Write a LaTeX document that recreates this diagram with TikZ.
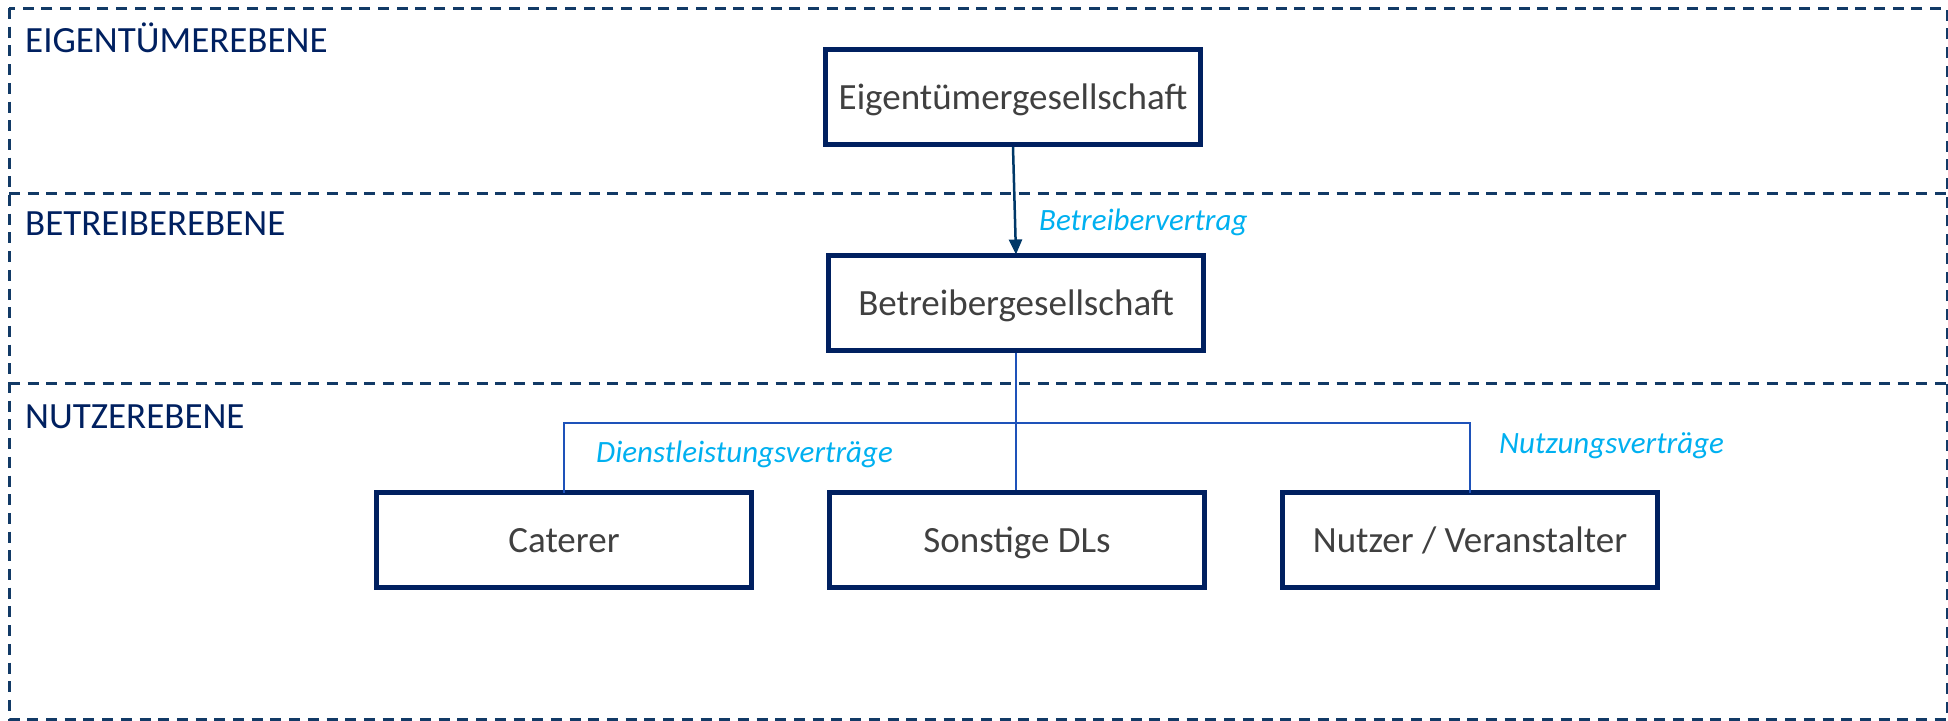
\documentclass[tikz,border=0pt]{standalone}
\usepackage{fontspec}
\setmainfont{Carlito}
\usetikzlibrary{arrows.meta}
\definecolor{navy}{RGB}{0,32,96}
\definecolor{dashblue}{RGB}{18,58,102}
\definecolor{txtgrey}{RGB}{64,64,64}
\definecolor{cyanlbl}{RGB}{0,176,240}
\definecolor{linkblue}{RGB}{30,82,185}
\definecolor{arrowblue}{RGB}{0,56,104}
\tikzset{
  orgbox/.style={draw=navy, line width=5pt, minimum width=375pt, minimum height=95pt,
    inner sep=0pt, text height=24pt, text depth=0pt, text=txtgrey,
    font=\fontsize{37}{44}\selectfont},
  lvl/.style={anchor=base west, inner sep=0pt, text=navy, font=\fontsize{37}{44}\selectfont},
  ctr/.style={anchor=base west, inner sep=0pt, text=cyanlbl, font=\fontsize{31}{37}\selectfont\itshape},
  sep/.style={draw=dashblue, line width=3pt, dash pattern=on 11pt off 7.7pt},
  link/.style={draw=linkblue, line width=1.4pt}
}
\begin{document}
\begin{tikzpicture}[x=1pt,y=-1pt]
\useasboundingbox (0,0) rectangle (1948,720);
% frame and separators
\draw[sep] (9,8) rectangle (1947,719);
\coordinate (s1l) at (9,193);
\coordinate (s1r) at (1947,193);
\coordinate (s2l) at (9,383);
\coordinate (s2r) at (1947,383);
\draw[sep] (s1l) -- (s1r);
\draw[sep] (s2l) -- (s2r);
% level labels
\node[lvl] (l1) at (25,52) {EIGENTÜMEREBENE};
\node[lvl] (l2) at (25,235) {BETREIBEREBENE};
\node[lvl] (l3) at (25,428) {NUTZEREBENE};
% boxes
\node[orgbox] (eig) at (1013,97) {Eigentümergesellschaft};
\node[orgbox] (betr) at (1016,303) {Betreibergesellschaft};
\node[orgbox] (cat) at (564,540) {Caterer};
\node[orgbox] (sonst) at (1017,540) {Sonstige DLs};
\node[orgbox] (nutz) at (1470,540) {Nutzer / Veranstalter};
% arrow
\draw[draw=arrowblue, line width=2.5pt, -{Triangle[length=15pt,width=13pt]}, shorten >=1pt]
  (eig.south) -- ([yshift=-2.5pt]betr.north);
% connectors
\coordinate (bus) at (1016,423);
\draw[link] (betr.south) -- (betr.south |- sonst.north);
\draw[link] ([yshift=-2.5pt]cat.north) |- (bus) -| ([yshift=-2.5pt]nutz.north);
% contract labels
\node[ctr] (c1) at (1039,230) {Betreibervertrag};
\node[ctr] (c2) at (596,462) {Dienstleistungsverträge};
\node[ctr] (c3) at (1499,453) {Nutzungsverträge};
\end{tikzpicture}
\end{document}
